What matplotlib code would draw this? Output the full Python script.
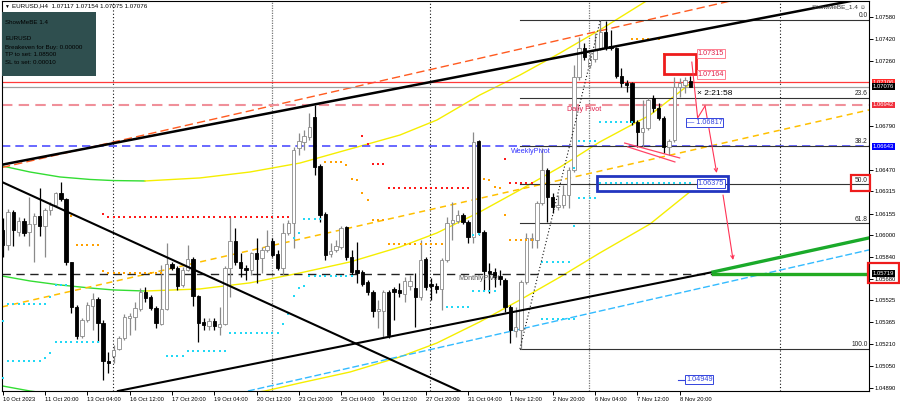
import matplotlib
matplotlib.use("Agg")
import matplotlib.pyplot as plt
from matplotlib.patches import Rectangle

plt.rcParams['font.family'] = ['Liberation Sans', 'DejaVu Sans']

symbol = "EURUSD"
timeframe = "H4"

opens = [1.06036, 1.05927, 1.06166, 1.06021, 1.06101, 1.06021, 1.06079, 1.06137, 1.06065, 1.06181,
         1.06217, 1.06304, 1.06260, 1.05804, 1.05478, 1.05267, 1.05383, 1.05485, 1.05536, 1.05362,
         1.05086, 1.05122, 1.05173, 1.05253, 1.05398, 1.05405, 1.05463, 1.05586, 1.05550, 1.05470,
         1.05354, 1.05463, 1.05789, 1.05760, 1.05637, 1.05746, 1.05826, 1.05557, 1.05369, 1.05340,
         1.05376, 1.05333, 1.05354, 1.05760, 1.05956, 1.05804, 1.05760, 1.05746, 1.05869, 1.05833,
         1.05891, 1.05956, 1.05862, 1.05760, 1.06014, 1.06086, 1.06630, 1.06674, 1.06710, 1.06855,
         1.06500, 1.06152, 1.05862, 1.05891, 1.05912, 1.06057, 1.05840, 1.05746, 1.05731, 1.05659,
         1.05586, 1.05449, 1.05449, 1.05586, 1.05608, 1.05601, 1.05572, 1.05630, 1.05615, 1.05550,
         1.05826, 1.05644, 1.05630, 1.05608, 1.05818, 1.06086, 1.06101, 1.06144, 1.06094, 1.05985,
         1.06681, 1.06021, 1.05739, 1.05731, 1.05702, 1.05673, 1.05478, 1.05304, 1.05311, 1.05659,
         1.05963, 1.05963, 1.06231, 1.06471, 1.06275, 1.06202, 1.06217, 1.06289, 1.06471, 1.07145,
         1.07355, 1.07232, 1.07275, 1.07355, 1.07471, 1.07370, 1.07355, 1.07152, 1.07101, 1.07101,
         1.06819, 1.06746, 1.06775, 1.06993, 1.06920, 1.06848, 1.06638, 1.06688, 1.07072, 1.07087,
         1.07117]
highs = [1.06123, 1.06188, 1.06181, 1.06130, 1.06123, 1.06275, 1.06159, 1.06340, 1.06195, 1.06239,
         1.06311, 1.06384, 1.06268, 1.05804, 1.05492, 1.05398, 1.05514, 1.05579, 1.05550, 1.05383,
         1.05151, 1.05202, 1.05267, 1.05427, 1.05434, 1.05514, 1.05615, 1.05623, 1.05565, 1.05485,
         1.05782, 1.05942, 1.05804, 1.05775, 1.05768, 1.05927, 1.05840, 1.05565, 1.05398, 1.05398,
         1.05398, 1.05478, 1.05775, 1.06130, 1.06050, 1.05869, 1.05782, 1.05876, 1.05978, 1.05912,
         1.06036, 1.05978, 1.05891, 1.06086, 1.06108, 1.06638, 1.06739, 1.06761, 1.06884, 1.06942,
         1.06514, 1.06166, 1.05942, 1.05963, 1.06065, 1.06065, 1.05891, 1.05949, 1.05746, 1.05673,
         1.05601, 1.05528, 1.05601, 1.05601, 1.05623, 1.05652, 1.05695, 1.05709, 1.05724, 1.05963,
         1.05840, 1.05688, 1.05652, 1.05833, 1.06130, 1.06239, 1.06181, 1.06159, 1.06108, 1.06746,
         1.06688, 1.06036, 1.05797, 1.05760, 1.05746, 1.05688, 1.05492, 1.05478, 1.05673, 1.06014,
         1.06014, 1.06246, 1.06630, 1.06485, 1.06304, 1.06289, 1.06362, 1.06492, 1.07232, 1.07435,
         1.07391, 1.07319, 1.07464, 1.07558, 1.07551, 1.07486, 1.07362, 1.07210, 1.07123, 1.07109,
         1.06833, 1.06978, 1.06993, 1.07014, 1.06956, 1.06862, 1.06695, 1.07145, 1.07138, 1.07145,
         1.07154]
lows = [1.05840, 1.05891, 1.05920, 1.05992, 1.05992, 1.05920, 1.05804, 1.05992, 1.05840, 1.06144,
        1.06202, 1.06246, 1.05782, 1.05434, 1.05246, 1.05253, 1.05369, 1.05311, 1.05224, 1.04948,
        1.04999, 1.05071, 1.05166, 1.05238, 1.05275, 1.05311, 1.05449, 1.05514, 1.05456, 1.05325,
        1.05347, 1.05456, 1.05746, 1.05601, 1.05623, 1.05739, 1.05485, 1.05224, 1.05311, 1.05311,
        1.05311, 1.05275, 1.05347, 1.05550, 1.05782, 1.05695, 1.05673, 1.05709, 1.05652, 1.05724,
        1.05876, 1.05840, 1.05746, 1.05709, 1.05999, 1.05905, 1.06579, 1.06616, 1.06688, 1.06434,
        1.06094, 1.05818, 1.05840, 1.05876, 1.05898, 1.05818, 1.05709, 1.05652, 1.05630, 1.05565,
        1.05405, 1.05325, 1.05260, 1.05253, 1.05383, 1.05550, 1.05514, 1.05601, 1.05333, 1.05528,
        1.05601, 1.05528, 1.05579, 1.05456, 1.05804, 1.05963, 1.06086, 1.06079, 1.05942, 1.05942,
        1.05999, 1.05601, 1.05579, 1.05623, 1.05637, 1.05441, 1.05217, 1.05260, 1.05173, 1.05644,
        1.05905, 1.05905, 1.06217, 1.06094, 1.06159, 1.06181, 1.06195, 1.06195, 1.06456, 1.07123,
        1.07268, 1.07210, 1.07253, 1.07341, 1.07341, 1.07341, 1.07138, 1.07072, 1.07036, 1.06797,
        1.06638, 1.06638, 1.06761, 1.06891, 1.06833, 1.06594, 1.06579, 1.06674, 1.07000, 1.07029,
        1.07075]
closes = [1.05927, 1.06166, 1.06036, 1.06101, 1.06014, 1.06079, 1.06137, 1.06065, 1.06181, 1.06217,
          1.06304, 1.06260, 1.05804, 1.05478, 1.05267, 1.05383, 1.05492, 1.05536, 1.05362, 1.05086,
          1.05071, 1.05166, 1.05253, 1.05405, 1.05412, 1.05470, 1.05586, 1.05543, 1.05470, 1.05362,
          1.05463, 1.05789, 1.05760, 1.05630, 1.05746, 1.05826, 1.05557, 1.05362, 1.05347, 1.05376,
          1.05340, 1.05354, 1.05760, 1.05956, 1.05804, 1.05760, 1.05746, 1.05869, 1.05826, 1.05891,
          1.05920, 1.05855, 1.05760, 1.06014, 1.06086, 1.06616, 1.06681, 1.06717, 1.06782, 1.06492,
          1.06144, 1.05855, 1.05883, 1.05920, 1.06050, 1.05840, 1.05731, 1.05724, 1.05644, 1.05586,
          1.05449, 1.05463, 1.05586, 1.05275, 1.05586, 1.05579, 1.05666, 1.05666, 1.05550, 1.05818,
          1.05623, 1.05630, 1.05608, 1.05818, 1.06086, 1.06108, 1.06144, 1.06094, 1.05985, 1.06674,
          1.06021, 1.05739, 1.05724, 1.05695, 1.05681, 1.05478, 1.05311, 1.05333, 1.05659, 1.05978,
          1.05978, 1.06231, 1.06471, 1.06275, 1.06202, 1.06217, 1.06289, 1.06471, 1.07145, 1.07355,
          1.07290, 1.07275, 1.07341, 1.07471, 1.07362, 1.07355, 1.07152, 1.07101, 1.07087, 1.06819,
          1.06746, 1.06775, 1.06978, 1.06920, 1.06848, 1.06638, 1.06681, 1.07072, 1.07101, 1.07123,
          1.07076]

x_tick_labels = ["10 Oct 2023", "11 Oct 20:00", "13 Oct 04:00", "16 Oct 12:00", "17 Oct 20:00",
                 "19 Oct 04:00", "20 Oct 12:00", "23 Oct 20:00", "25 Oct 04:00", "26 Oct 12:00",
                 "27 Oct 20:00", "31 Oct 04:00", "1 Nov 12:00", "2 Nov 20:00", "6 Nov 04:00",
                 "7 Nov 12:00", "8 Nov 20:00"]
x_tick_step = 8
y_tick_values = [1.07580, 1.07420, 1.07260, 1.06790, 1.06470, 1.06315, 1.06155, 1.06000,
                 1.05840, 1.05680, 1.05525, 1.05365, 1.05210, 1.05050, 1.04890]

ask_price = 1.07106
bid_price = 1.07076
daily_pivot = 1.06942
weekly_pivot = 1.06643
monthly_pivot = 1.05719

fib_low_bar, fib_low = 98, 1.05173
fib_high_bar, fib_high = 113, 1.07558
fib_levels = [0.0, 23.6, 38.2, 50.0, 61.8, 100.0]

upper_trend = [(0, 1.06510), (164, 1.07723)]
orange_trend = [(0, 1.06490), (138.4, 1.07703)]
down_trend = [(0, 1.06381), (86.4, 1.04868)]
low_trend = [(21.8, 1.04868), (134.3, 1.05731)]
green_trend = [(134.3, 1.05731), (163.8, 1.05978)]
cyan_trend = [(47.3, 1.04876), (163.8, 1.05891)]
yellow_trend = [(0, 1.05479), (163.8, 1.06906)]

reg_green_x = [-0.13, 5.16, 10.83, 16.5, 20.85, 26.9]
reg_upper_green = [1.06500, 1.06456, 1.06420, 1.06402, 1.06394, 1.06391]
reg_mid_green = [1.05702, 1.05666, 1.05637, 1.05615, 1.05601, 1.05593]
reg_upper_x = [26.9, 37.3, 46.75, 56.2, 65.7, 75.1, 82.1, 90.2, 97.8, 105.4, 112.9, 122.0]
reg_upper = [1.06391, 1.06413, 1.06456, 1.06521, 1.06623, 1.06724, 1.06833, 1.07014, 1.07159,
             1.07319, 1.07486, 1.07703]
reg_mid_x = [26.9, 37.3, 46.75, 56.2, 65.7, 75.1, 82.1, 90.2, 97.8, 105.4, 112.9, 122.4, 129.9]
reg_mid = [1.05593, 1.05608, 1.05652, 1.05724, 1.05804, 1.05912, 1.06014, 1.06166, 1.06326,
           1.06492, 1.06674, 1.06869, 1.07094]
reg_low_green_x = [-0.13, 5.16, 10.83]
reg_low_green = [1.04905, 1.04868, 1.04840]
reg_low_x = [37.3, 49.6, 56.2, 65.7, 75.1, 82.1, 90.2, 97.8, 105.4, 112.9, 122.4, 129.9]
reg_low = [1.04800, 1.04868, 1.04926, 1.05006, 1.05115, 1.05216, 1.05369, 1.05528, 1.05695,
           1.05869, 1.06079, 1.06311]

cyan_levels = [(0, 0, 1.05376), (0, 0, 1.04963), (1, 8, 1.05499), (9, 9, 1.05550), (10, 12, 1.05637),
               (1, 7, 1.05086), (8, 8, 1.05108), (9, 9, 1.05144), (10, 18, 1.05224),
               (31, 34, 1.05122), (35, 42, 1.05159), (43, 52, 1.05289), (53, 53, 1.05354),
               (54, 54, 1.05427), (55, 55, 1.05557), (56, 56, 1.05615), (57, 57, 1.05630),
               (58, 66, 1.05702), (55, 55, 1.05978), (56, 56, 1.06014), (57, 60, 1.06115),
               (84, 88, 1.05478), (89, 93, 1.05593), (89, 89, 1.05999), (90, 90, 1.06007),
               (102, 107, 1.05804), (102, 108, 1.05391), (108, 108, 1.06065), (108, 108, 1.06485),
               (109, 112, 1.06268), (109, 112, 1.06681), (113, 119, 1.06817), (113, 130, 1.06375)]
red_levels = [(19, 19, 1.06152), (20, 54, 1.06130), (68, 68, 1.06717), (69, 69, 1.06659),
              (70, 72, 1.06514), (73, 88, 1.06340), (95, 95, 1.06550), (96, 100, 1.06376)]
orange_levels = [(13, 13, 1.06137), (14, 18, 1.05927), (19, 19, 1.05739), (20, 30, 1.05724),
                 (61, 64, 1.06528), (65, 65, 1.06507), (66, 66, 1.06405), (67, 67, 1.06398),
                 (68, 68, 1.06304), (69, 69, 1.06253), (70, 72, 1.06108), (73, 83, 1.05934),
                 (91, 91, 1.06405), (92, 92, 1.06398), (93, 93, 1.06347), (94, 94, 1.06340),
                 (95, 95, 1.06144), (96, 100, 1.05963), (119, 124, 1.07420), (125, 125, 1.07312)]

week_seps_black = [20.85, 80.8, 146.9]
week_seps_grey = [50.9, 110.8]

red_box = (125.0, 131.1, 1.07164, 1.07315)
blue_box = (112.4, 137.1, 1.06318, 1.06427)
target_up = 1.06817
target_down = 1.04949
target_mid = 1.06375

zig1_x = [130.3, 131.4, 132.8]
zig1_y = [1.07253, 1.06848, 1.06935]
arrow1 = [(132.8, 1.06935), (135.0, 1.06449)]
arrow2 = [(136.2, 1.06289), (138.1, 1.05818)]
wedge1 = [(117.6, 1.06666), (128.0, 1.06558)]
wedge2 = [(118.2, 1.06638), (127.1, 1.06529)]

timer_text = "2:21:58"

# ---------------------------------------------------------------- figure
W, H = 900, 404
fig = plt.figure(figsize=(W / 100, H / 100), dpi=100)
PL, PR, PT, PB = 2, 869, 1, 391
ax = fig.add_axes([PL / W, 1 - PB / H, (PR - PL) / W, (PB - PT) / H])
ax.set_xlim(-0.13, 163.8)
ax.set_ylim(1.04868, 1.07696)


def fxy(px, py):
    return px / W, 1 - py / H


FS = 5.2      # in-chart object labels
AFS = 4.2     # axis labels
PFS = 4.5     # panel / header

# separators
for xv in week_seps_black:
    ax.axvline(xv, color='#111111', lw=0.8, ls=(0, (1, 2)), zorder=1)
for xv in week_seps_grey:
    ax.axvline(xv, color='#777777', lw=0.9, ls=(0, (1, 1)), zorder=1)

# regression curves
ax.plot(reg_green_x, reg_upper_green, color='#33dd33', lw=1, zorder=2)
ax.plot(reg_green_x, reg_mid_green, color='#33dd33', lw=1, zorder=2)
ax.plot(reg_low_green_x, reg_low_green, color='#33dd33', lw=1, zorder=2)
ax.plot(reg_upper_x, reg_upper, color='#f5ee00', lw=1, zorder=2)
ax.plot(reg_mid_x, reg_mid, color='#f5ee00', lw=1, zorder=2)
ax.plot(reg_low_x, reg_low, color='#f5ee00', lw=1, zorder=2)

# straight indicator lines
ax.axline(*yellow_trend, color='#ffc000', lw=1.1, ls=(0, (4, 3)), zorder=2)
ax.axline(*cyan_trend, color='#33bbff', lw=1, ls=(0, (5, 2)), zorder=2)
ax.axline(*orange_trend, color='#ff5a1f', lw=1, ls=(0, (6, 3)), zorder=2)

# horizontal lines
ax.axhline(ask_price, color='#ff3b3b', lw=0.9, zorder=2)
ax.axhline(bid_price, color='#a0a0a0', lw=0.9, zorder=2)
ax.axhline(daily_pivot, color='#f0909a', lw=1.5, ls=(0, (5, 3)), zorder=2)
ax.axhline(weekly_pivot, color='#4f4fff', lw=1.2, ls=(0, (5, 3)), zorder=2)
ax.plot([-0.13, green_trend[0][0]], [monthly_pivot, monthly_pivot], color='#222222', lw=1,
        ls=(0, (6, 4)), zorder=2)
ax.plot([green_trend[0][0], 163.8], [monthly_pivot, monthly_pivot], color='#22aa22', lw=2.4,
        zorder=3)

# fibonacci
rng = fib_high - fib_low
for lvl in fib_levels:
    p = fib_high - lvl / 100 * rng
    ax.plot([fib_low_bar - 0.2, 163.8], [p, p], color='#333333', lw=0.8, zorder=2)
    ax.text(163.5, p + 0.00004, f"{lvl:.1f}", fontsize=4.8, ha='right', va='bottom',
            color='#222222', zorder=6)
ax.plot([fib_low_bar - 0.2, fib_high_bar], [fib_low, fib_high], color='#111111', lw=0.8,
        ls=(0, (1, 2)), zorder=4)

# candles
for i, (o, h, l, c) in enumerate(zip(opens, highs, lows, closes)):
    h = max(h, o, c)
    l = min(l, o, c)
    bull = c >= o
    col = '#8a8a8a' if bull else '#000000'
    ax.plot([i, i], [l, h], color=col, lw=0.9, zorder=3, solid_capstyle='butt')
    bot = min(o, c)
    hgt = max(abs(c - o), 0.00003)
    ax.add_patch(Rectangle((i - 0.32, bot), 0.64, hgt, facecolor='white' if bull else 'black',
                           edgecolor=col, lw=0.6, zorder=3.2))

# dotted levels
for levels, col in ((cyan_levels, '#22d8f5'), (red_levels, '#ff1a1a'), (orange_levels, '#ffa000')):
    for s, e, p in levels:
        xs = list(range(s, e + 1))
        ax.plot(xs, [p] * len(xs), ls='none', marker='s', ms=1.7, color=col, mew=0, zorder=3.5)

# trend lines
ax.axline(*upper_trend, color='black', lw=1.8, zorder=4)
ax.axline(*down_trend, color='black', lw=1.5, zorder=4)
ax.plot(*zip(*low_trend), color='black', lw=1.5, zorder=4)
ax.plot(*zip(*green_trend), color='#1aaa2a', lw=2.4, zorder=4)

# boxes
x0, x1, y0, y1 = red_box
ax.add_patch(Rectangle((x0, y0), x1 - x0, y1 - y0, fill=False, ec='#ee1c1c', lw=2, zorder=5))
x0, x1, y0, y1 = blue_box
ax.add_patch(Rectangle((x0, y0), x1 - x0, y1 - y0, fill=False, ec='#2235c0', lw=2, zorder=5))

lbl_red = dict(boxstyle='square,pad=0.12', fc='white', ec='#ff7f90', lw=0.7)
lbl_blue = dict(boxstyle='square,pad=0.12', fc='white', ec='#3344dd', lw=0.7)
ax.text(131.4, red_box[3], f"{red_box[3]:.5f}", fontsize=FS, color='#e0204a', va='center',
        bbox=lbl_red, zorder=6)
ax.text(131.4, red_box[2], f"{red_box[2]:.5f}", fontsize=FS, color='#e0204a', va='center',
        bbox=lbl_red, zorder=6)
ax.text(131.4, target_mid, f"{target_mid:.5f}", fontsize=FS, color='#3344dd', va='center',
        bbox=lbl_blue, zorder=6)
ax.text(129.3, target_up, f"— {target_up:.5f}", fontsize=FS, color='#3344dd', va='center',
        bbox=lbl_blue, zorder=6)
ax.plot([127.6, 129.0], [target_down, target_down], color='#3344dd', lw=0.8, zorder=5)
ax.text(129.2, target_down, f"{target_down:.5f}", fontsize=FS, color='#3344dd', va='center',
        bbox=lbl_blue, zorder=6)

# red projection lines
ax.plot(zig1_x, zig1_y, color='#ff3355', lw=0.8, zorder=5)
for (xa, ya), (xb, yb) in (arrow1, arrow2):
    ax.annotate('', xy=(xb, yb), xytext=(xa, ya),
                arrowprops=dict(arrowstyle='->', color='#ff3355', lw=0.8,
                                shrinkA=0, shrinkB=0, mutation_scale=6), zorder=5)
for seg in (wedge1, wedge2):
    ax.plot(*zip(*seg), color='#ff4466', lw=0.9, zorder=5)

# pivot names
ax.text(106.7, daily_pivot - 0.00036, "Daily Pivot", fontsize=FS, color='#e0204a', va='center', zorder=6)
ax.text(96.1, weekly_pivot - 0.00038, "WeeklyPivot", fontsize=FS, color='#3333ff', va='center', zorder=6)
ax.text(86.1, monthly_pivot - 0.00038, "MonthlyPivot", fontsize=FS, color='#555555', va='center', zorder=6)

ax.text(131.2, 1.07022, "× " + timer_text, fontsize=6, color='black', va='center', zorder=6)

# axes styling
for s in ax.spines.values():
    s.set_color('#000000')
    s.set_linewidth(0.8)
ax.set_xticks(list(range(0, x_tick_step * len(x_tick_labels), x_tick_step)))
ax.set_xticklabels(x_tick_labels, ha='left')
ax.yaxis.tick_right()
ax.set_yticks(y_tick_values)
ax.set_yticklabels([f"{v:.5f}" for v in y_tick_values])
ax.tick_params(axis='x', length=3, width=0.7, pad=1.5, labelsize=AFS)
ax.tick_params(axis='y', length=3, width=0.7, pad=1.0, labelsize=AFS)

ytr = ax.get_yaxis_transform()
for val, bg in ((ask_price, '#ff2a2a'), (bid_price, '#000000'), (daily_pivot, '#f0303c'),
                (weekly_pivot, '#0000ff'), (monthly_pivot, '#000000')):
    ax.text(1.0045, val, f"{val:.5f}", transform=ytr, fontsize=AFS, color='white', va='center',
            ha='left', bbox=dict(boxstyle='square,pad=0.15', fc=bg, ec='none'), zorder=7,
            clip_on=False)

# red outline boxes on the right
for (px0, py0, px1, py1) in ((851, 175, 870, 191), (868, 263, 899, 283)):
    fx0, fy1 = fxy(px0, py0)
    fx1, fy0 = fxy(px1, py1)
    fig.patches.append(Rectangle((fx0, fy0), fx1 - fx0, fy1 - fy0, transform=fig.transFigure,
                                 fill=False, ec='#ee1c1c', lw=1.6, zorder=8))

# info panel
fx0, fy1 = fxy(2, 12)
fx1, fy0 = fxy(96, 76)
fig.patches.append(Rectangle((fx0, fy0), fx1 - fx0, fy1 - fy0, transform=fig.transFigure,
                             fc='#2f4f4f', ec='none', zorder=8))
panel_lines = [("ShowMeBE 1.4", 23), (symbol, 39), ("Breakeven for Buy: 0.00000", 47),
               ("TP to set: 1.08500", 55), ("SL to set: 0.00010", 63)]
for txt, py in panel_lines:
    fig.text(*fxy(5, py), txt, fontsize=PFS, color='black', va='center', zorder=9)

fig.text(*fxy(4, 6), "▼", fontsize=3.5, color='black', va='center', zorder=9)
fig.text(*fxy(12, 6), f"{symbol},{timeframe}  {opens[-1]:.5f} {highs[-1]:.5f} {lows[-1]:.5f} {closes[-1]:.5f}",
         fontsize=PFS, color='black', va='center', zorder=9)
fig.text(*fxy(866, 7), "ShowMeBE_1.4 ☺", fontsize=4.6, color='#333333', va='center', ha='right', zorder=9)

fig.savefig("out.png", dpi=100, facecolor='white')
